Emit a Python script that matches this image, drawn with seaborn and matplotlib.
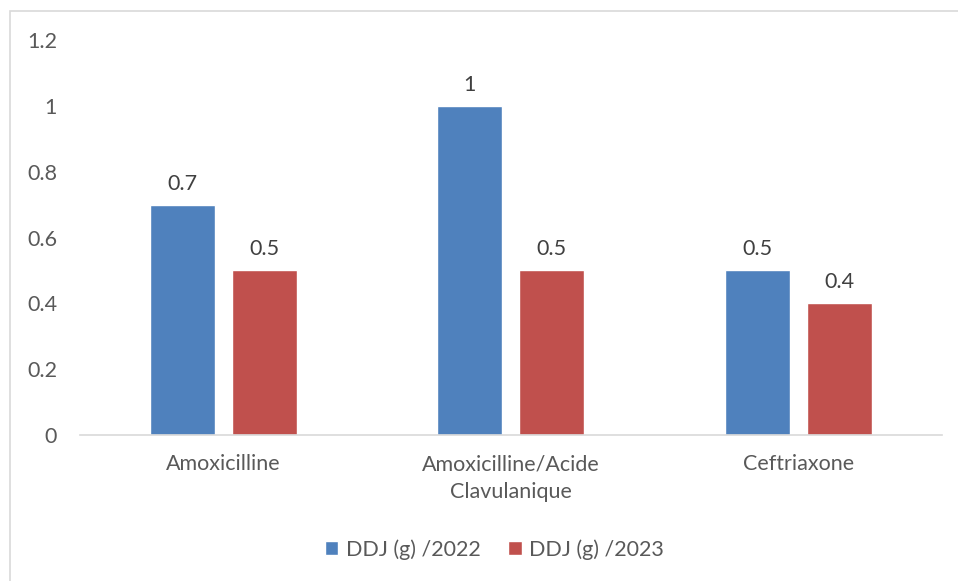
import matplotlib
matplotlib.use("Agg")
import matplotlib.pyplot as plt
import seaborn as sns
import pandas as pd
from matplotlib.patches import Rectangle

categories = ["Amoxicilline", "Amoxicilline/Acide\nClavulanique", "Ceftriaxone"]
series_names = ["DDJ (g) /2022", "DDJ (g) /2023"]
ddj_2022 = [0.7, 1.0, 0.5]
ddj_2023 = [0.5, 0.5, 0.4]
value_labels_2022 = ["0.7", "1", "0.5"]
value_labels_2023 = ["0.5", "0.5", "0.4"]
y_ticks = [0, 0.2, 0.4, 0.6, 0.8, 1.0, 1.2]
y_tick_labels = ["0", "0.2", "0.4", "0.6", "0.8", "1", "1.2"]

df = pd.DataFrame({
    "cat": categories * 2,
    "serie": [series_names[0]] * 3 + [series_names[1]] * 3,
    "val": ddj_2022 + ddj_2023,
})

sns.set_theme(style="white")
plt.rcParams["font.family"] = ["Lato", "DejaVu Sans"]
text_color = "#595959"
fs = 15.5

fig = plt.figure(figsize=(9.58, 5.81), dpi=100)
ax = fig.add_axes([0.0835, 0.2513, 0.8995, 0.6797])

palette = {series_names[0]: "#4F81BD", series_names[1]: "#C0504D"}
sns.barplot(data=df, x="cat", y="val", hue="serie", palette=palette,
            width=0.571, gap=0.207, ax=ax, saturation=1, legend=True)

labels_by_series = [value_labels_2022, value_labels_2023]
for container, labs in zip(ax.containers, labels_by_series):
    ax.bar_label(container, labels=labs, padding=8, fontsize=fs, color="#404040")

ax.set_ylim(0, 1.2)
ax.set_xlim(-0.5, 2.5)
ax.set_yticks(y_ticks)
ax.set_yticklabels(y_tick_labels)
ax.set_xlabel("")
ax.set_ylabel("")
ax.tick_params(axis="both", length=0, labelsize=fs, colors=text_color)
ax.tick_params(axis="y", pad=16.5)
ax.tick_params(axis="x", pad=14)
for lab in ax.get_xticklabels():
    lab.set_linespacing(1.45)
for s in ["top", "right", "left"]:
    ax.spines[s].set_visible(False)
ax.spines["bottom"].set_color("#D9D9D9")
ax.spines["bottom"].set_linewidth(1.2)

handles, labels = ax.get_legend_handles_labels()
ax.legend(handles, labels, loc="lower center", bbox_to_anchor=(0.516, 0.003),
          bbox_transform=fig.transFigure, ncol=2, frameon=False, fontsize=fs,
          handlelength=0.62, handleheight=0.62, columnspacing=1.3, handletextpad=0.35,
          labelcolor=text_color)

# chart area border
fig.patches.append(Rectangle((10 / 958, -0.05), 1.2, (581 - 11) / 581 + 0.05,
                             transform=fig.transFigure, fill=False,
                             edgecolor="#D9D9D9", linewidth=1.2))

fig.savefig("out.png", dpi=100)
